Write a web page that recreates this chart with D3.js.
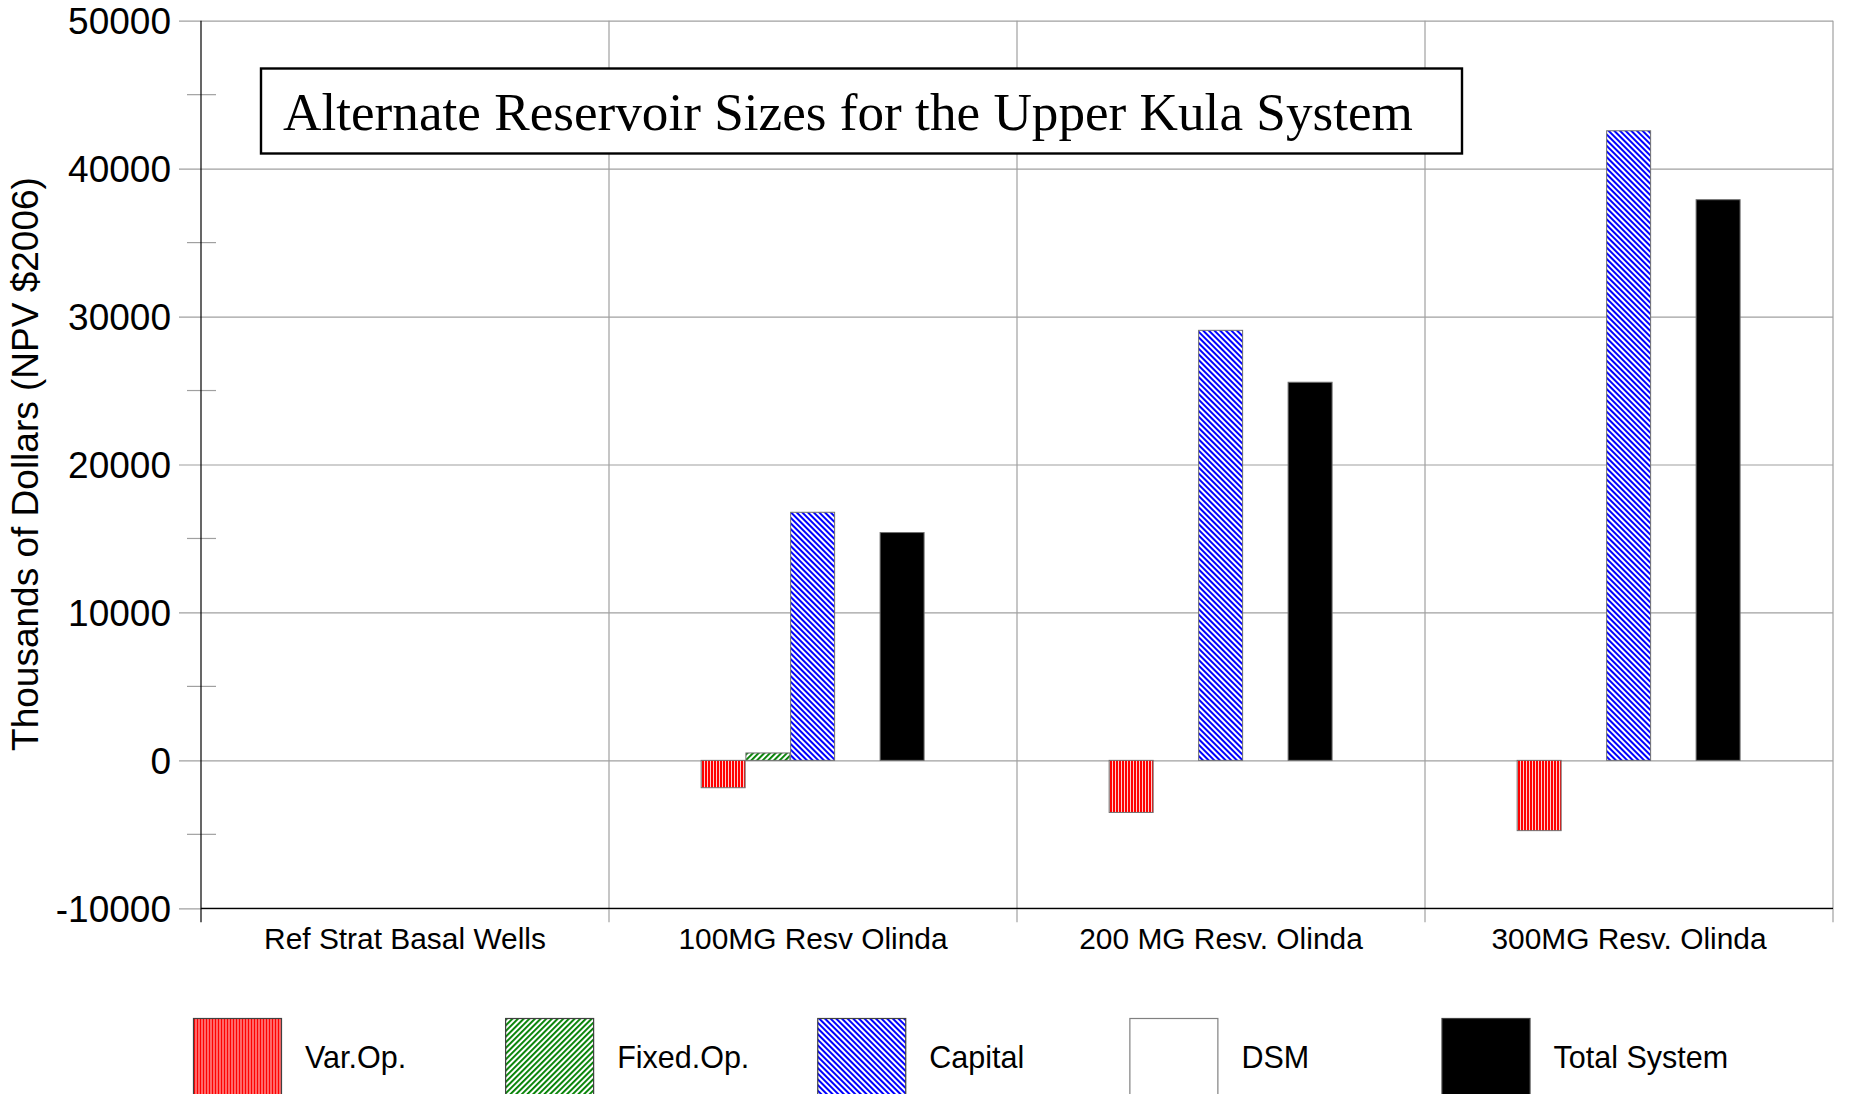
<!DOCTYPE html>
<html>
<head>
<meta charset="utf-8">
<script src="https://cdn.jsdelivr.net/npm/d3@7"></script>
<style>
  html, body { margin: 0; padding: 0; background: #fff; overflow: hidden; }
  svg { display: block; }
</style>
</head>
<body>
<svg id="chart" width="1852" height="1094"></svg>
<script>
// Cost components (thousands of dollars, NPV $2006) by scenario
const categories = ["Ref Strat Basal Wells", "100MG Resv Olinda", "200 MG Resv. Olinda", "300MG Resv. Olinda"];
const seriesNames = ["Var.Op.", "Fixed.Op.", "Capital", "DSM", "Total System"];
const varOp       = [0, -1850, -3520, -4750];
const fixedOp     = [0,   500,     0,     0];
const capital     = [0, 16770, 29070, 42560];
const dsm         = [0,     0,     0,     0];
const totalSystem = [0, 15400, 25560, 37900];
const yTicks = [-10000, 0, 10000, 20000, 30000, 40000, 50000];
const yMinorTicks = [-5000, 5000, 15000, 25000, 35000, 45000];
const title = "Alternate Reservoir Sizes for the Upper Kula System";
const yTitle = "Thousands of Dollars (NPV $2006)";

const seriesValues = [varOp, fixedOp, capital, dsm, totalSystem];
const fills = ["url(#pVar)", "url(#pFixed)", "url(#pCap)", "#ffffff", "#000000"];

const svg = d3.select("#chart");
const defs = svg.append("defs");

// Vertical red stripes
const pVar = defs.append("pattern").attr("id", "pVar").attr("patternUnits", "userSpaceOnUse")
  .attr("width", 3).attr("height", 10);
pVar.append("rect").attr("width", 3).attr("height", 10).attr("fill", "#fff");
pVar.append("rect").attr("width", 2.2).attr("height", 10).attr("fill", "#ff0000");

// Green forward diagonals
const pFixed = defs.append("pattern").attr("id", "pFixed").attr("patternUnits", "userSpaceOnUse")
  .attr("width", 4).attr("height", 10).attr("patternTransform", "rotate(45)");
pFixed.append("rect").attr("width", 4).attr("height", 10).attr("fill", "#fff");
pFixed.append("rect").attr("width", 1.9).attr("height", 10).attr("fill", "#008000");

// Blue back diagonals
const pCap = defs.append("pattern").attr("id", "pCap").attr("patternUnits", "userSpaceOnUse")
  .attr("width", 4).attr("height", 10).attr("patternTransform", "rotate(-45)");
pCap.append("rect").attr("width", 4).attr("height", 10).attr("fill", "#fff");
pCap.append("rect").attr("width", 2).attr("height", 10).attr("fill", "#0000ff");

const plotLeft = 201, plotRight = 1833, plotTop = 20.7, plotBottom = 908.3;

const x = d3.scaleBand().domain(categories).range([plotLeft, plotRight]).padding(0);
const xs = d3.scaleBand().domain(seriesNames).range([0, x.bandwidth()])
  .paddingInner(0).paddingOuter(2.06);
const y = d3.scaleLinear().domain([-10000, 50000]).range([plotBottom, plotTop]);

const grid = "#a0a0a0";

// Horizontal gridlines with major ticks
const yAxis = d3.axisLeft(y).tickValues(yTicks).tickSize(-(plotRight - plotLeft)).tickFormat("");
const gy = svg.append("g").attr("transform", `translate(${plotLeft},0)`).call(yAxis);
gy.select(".domain").remove();
gy.selectAll(".tick line").attr("stroke", grid).attr("stroke-width", 1.2)
  .attr("x1", -22);

// Minor ticks crossing the axis
svg.append("g").selectAll("line").data(yMinorTicks).join("line")
  .attr("x1", plotLeft - 14).attr("x2", plotLeft + 15)
  .attr("y1", d => y(d)).attr("y2", d => y(d))
  .attr("stroke", grid).attr("stroke-width", 1.2);

// Tick labels
svg.append("g").selectAll("text").data(yTicks).join("text")
  .attr("x", 171).attr("y", d => y(d)).attr("dy", "0.36em")
  .attr("text-anchor", "end")
  .style("font-family", "'Liberation Sans', Arial, sans-serif")
  .style("font-size", "37px").attr("fill", "#000")
  .text(d => d);

// Vertical category separators
const bounds = categories.map(c => x(c) + x.bandwidth());
svg.append("g").selectAll("line").data(bounds).join("line")
  .attr("x1", d => d).attr("x2", d => d)
  .attr("y1", plotTop).attr("y2", plotBottom + 14)
  .attr("stroke", grid).attr("stroke-width", 1.2);

// Title box
svg.append("rect").attr("x", 261).attr("y", 68.5).attr("width", 1201).attr("height", 85)
  .attr("fill", "#fff").attr("stroke", "#000").attr("stroke-width", 2.4);
svg.append("text").attr("x", 283).attr("y", 130)
  .style("font-family", "'Liberation Serif', 'Times New Roman', serif")
  .style("font-size", "53.2px").attr("fill", "#000")
  .text(title);

// Bars
const barData = [];
categories.forEach((c, i) => {
  seriesNames.forEach((s, j) => {
    barData.push({ c, s, j, v: seriesValues[j][i] });
  });
});
svg.append("g").selectAll("rect").data(barData.filter(d => d.v !== 0)).join("rect")
  .attr("x", d => x(d.c) + xs(d.s))
  .attr("width", xs.bandwidth() - 0.75)
  .attr("y", d => Math.min(y(d.v), y(0)))
  .attr("height", d => Math.abs(y(d.v) - y(0)))
  .attr("fill", d => fills[d.j])
  .attr("stroke", "#707070").attr("stroke-width", 1);

// Axis lines
svg.append("line").attr("x1", plotLeft).attr("x2", plotLeft).attr("y1", plotTop).attr("y2", plotBottom + 14)
  .attr("stroke", "#000").attr("stroke-width", 1.2);
svg.append("line").attr("x1", plotLeft).attr("x2", plotRight).attr("y1", plotBottom).attr("y2", plotBottom)
  .attr("stroke", "#000").attr("stroke-width", 1.2);

// Category labels
svg.append("g").selectAll("text").data(categories).join("text")
  .attr("x", d => x(d) + x.bandwidth() / 2).attr("y", 949)
  .attr("text-anchor", "middle")
  .style("font-family", "'Liberation Sans', Arial, sans-serif")
  .style("font-size", "29.9px").attr("fill", "#000")
  .text(d => d);

// Y axis title
svg.append("text")
  .attr("transform", "translate(38,464) rotate(-90)")
  .attr("text-anchor", "middle")
  .style("font-family", "'Liberation Sans', Arial, sans-serif")
  .style("font-size", "37px").attr("fill", "#000")
  .text(yTitle);

// Legend
const lx = d3.scalePoint().domain(seriesNames).range([193.5, 1442]);
const lg = svg.append("g").selectAll("g").data(seriesNames).join("g")
  .attr("transform", d => `translate(${lx(d)},1018.5)`);
lg.append("rect").attr("width", 88).attr("height", 100)
  .attr("fill", (d, i) => fills[i])
  .attr("stroke", (d, i) => i === 3 ? "#808080" : "#404040").attr("stroke-width", 1.2);
lg.append("text").attr("x", 111.5).attr("y", 38.5).attr("dy", "0.36em")
  .style("font-family", "'Liberation Sans', Arial, sans-serif")
  .style("font-size", "30.5px").attr("fill", "#000")
  .text(d => d);
</script>
</body>
</html>
